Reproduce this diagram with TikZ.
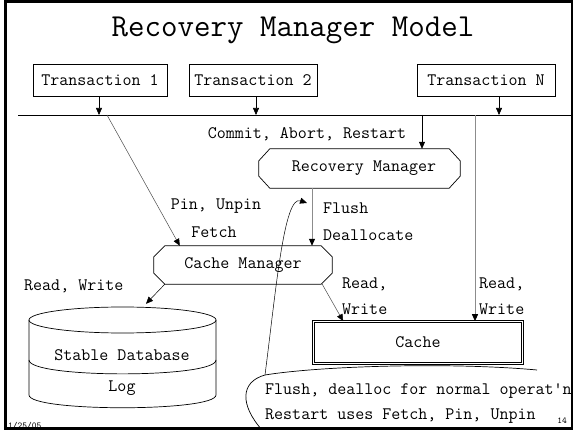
\documentclass[tikz,border=0pt]{standalone}
\usepackage{fontspec}
\usetikzlibrary{arrows.meta}
\newcommand\chamfbox[3]{\draw[line width=0.7pt] ([xshift=#2pt]#1.north west) -- ([xshift=-#2pt]#1.north east) -- ([yshift=-#3pt]#1.north east) -- ([yshift=#3pt]#1.south east) -- ([xshift=-#2pt]#1.south east) -- ([xshift=#2pt]#1.south west) -- ([yshift=#3pt]#1.south west) -- ([yshift=-#3pt]#1.north west) -- cycle;}
\begin{document}
\begin{tikzpicture}[x=1pt,y=-1pt,
  txt/.style={font=\ttfamily\fontsize{17.5}{21}\selectfont, inner sep=0pt},
  lbl/.style={txt, anchor=west},
  box/.style={txt, draw, line width=0.7pt},
  tip/.style={-{Triangle[length=7pt,width=6pt,color=black]}, line width=0.6pt},
  graylin/.style={draw=black!45},
  darklin/.style={draw=black!70}]
\useasboundingbox (0,0) rectangle (573,430);
\fill[white] (0,0) rectangle (573,430);

% title
\node[font=\ttfamily\fontsize{32}{36}\selectfont, anchor=base, inner sep=0pt] (title) at (293,37) {Recovery Manager Model};

% transactions
\node[box, minimum width=134pt, minimum height=32pt] (t1) at (100,80) {Transaction 1};
\node[box, minimum width=128pt, minimum height=32pt] (t2) at (253,80) {Transaction 2};
\node[box, minimum width=138pt, minimum height=32pt] (tn) at (486,80) {Transaction N};

% bus
\coordinate (busL) at (18,115);
\coordinate (busR) at (573,115);
\draw[line width=0.8pt] (busL) -- (busR);
\coordinate (b1) at (99,115);
\coordinate (b2) at (256,115);
\coordinate (bn) at (499,115);
\coordinate (bs) at (107,115);
\coordinate (brm) at (422,115);
\coordinate (bc) at (475,115);
\draw[tip] (t1.south -| b1) -- (b1);
\draw[tip] (t2.south -| b2) -- (b2);
\draw[tip] (tn.south -| bn) -- (bn);

% managers
\node[txt, minimum width=201pt, minimum height=39pt] (rm) at (359.5,168.5) {\hspace*{9pt}Recovery Manager};
\chamfbox{rm}{11}{12}
\node[txt, minimum width=178pt, minimum height=38pt] (cm) at (243,265) {Cache Manager};
\chamfbox{cm}{11}{11}

% cache
\node[txt, draw, double, line width=0.6pt, double distance=1.5pt, minimum width=209pt, minimum height=42pt] (cache) at (418,342.5) {Cache};

% database cylinder
\node[txt, minimum width=187pt, minimum height=104pt] (db) at (122.5,356) {};
\draw[line width=0.7pt] (122.5,320) ellipse [x radius=93.5, y radius=13];
\draw[line width=0.7pt] (29,320) -- (29,395) .. controls (29,412) and (216,412) .. (216,395) -- (216,320);
\draw[line width=0.7pt] (29,360) .. controls (29,378.5) and (216,378.5) .. (216,360);
\node[txt] (sdb) at (122,355) {Stable Database};
\node[txt] (log) at (122,388) {Log};

% connectors
\draw[tip] (brm) -- (brm |- rm.north);
\draw[tip, darklin, line width=0.5pt] (bs) -- ([xshift=26pt]cm.north west);
\coordinate (rmb) at ([xshift=-47.5pt]rm.south);
\draw[tip, graylin, line width=0.9pt] (rmb) -- (rmb |- cm.north);
\draw[tip, graylin, line width=0.9pt] (bc) -- (bc |- cache.north);
\draw[tip, line width=0.5pt] ([xshift=11pt]cm.south west) -- ([xshift=23.5pt]db.north);
\draw[tip, darklin, line width=0.5pt] ([xshift=-10pt]cm.south east) -- ([xshift=30pt]cache.north west);

% labels
\node[txt] (lcar) at (307,134) {Commit, Abort, Restart};
\node[txt] (lpin) at (216,206) {Pin, Unpin};
\node[txt] (lfet) at (214,232) {Fetch};
\node[lbl] (lflu) at (323,208) {Flush};
\node[lbl] (ldea) at (323,235) {Deallocate};
\node[lbl] (lrw) at (24,286) {Read, Write};
\node[lbl] (lr1) at (342,284) {Read,};
\node[lbl] (lw1) at (342,309) {Write};
\node[lbl] (lr2) at (479,284) {Read,};
\node[lbl] (lw2) at (479,309) {Write};

% callout
\draw[line width=0.7pt] (537,370) .. controls (450,362) and (320,366) .. (265,375) .. controls (240,382) and (240,405) .. (262,430);
\coordinate (ptail) at (265,375);
\coordinate (phead) at (307,203);
\draw[tip, line width=0.5pt] (ptail) .. controls (276,290) and (284,195) .. (phead);
\node[font=\ttfamily\fontsize{17.5}{21}\selectfont, inner sep=0pt, anchor=base west] (note1) at (265,394) {Flush, dealloc for normal operat'n};
\node[font=\ttfamily\fontsize{17.5}{21}\selectfont, inner sep=0pt, anchor=base west] (note2) at (265,419) {Restart uses Fetch, Pin, Unpin};

% footer
\node[font=\ttfamily\fontsize{9}{10}\selectfont, inner sep=0pt, anchor=north west] (date) at (8,422) {1/25/05};
\node[font=\ttfamily\fontsize{9}{10}\selectfont, inner sep=0pt] (pg) at (562,421) {14};

% frame
\draw[line width=3pt] (5,1.5) rectangle (572,428.5);
\end{tikzpicture}
\end{document}
